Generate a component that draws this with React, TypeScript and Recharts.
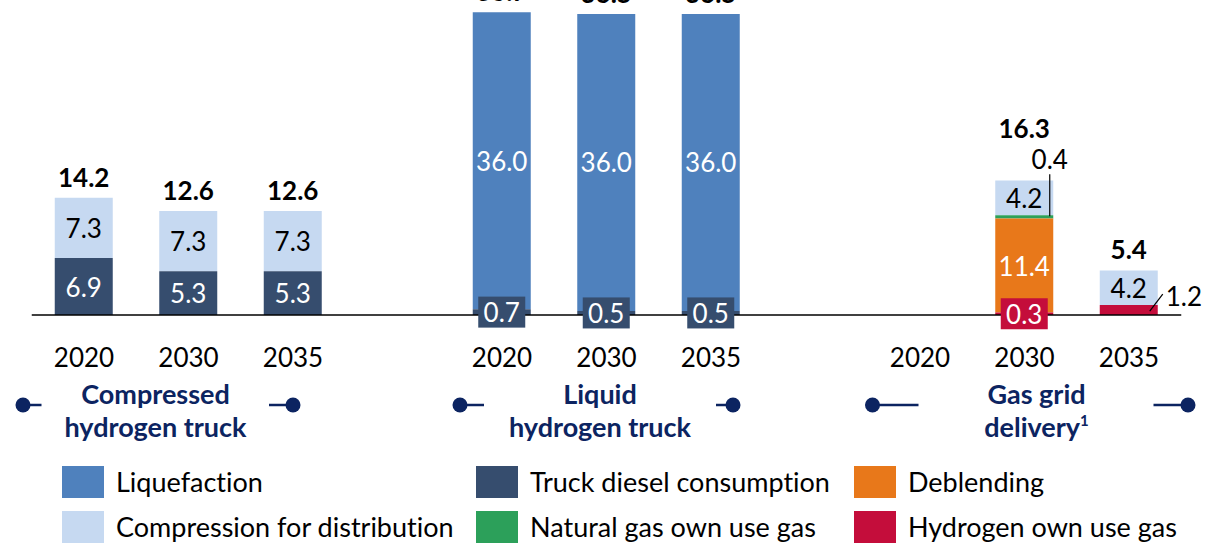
import React from 'react';
import { BarChart, Bar, XAxis, YAxis, LabelList } from 'recharts';

// ---------- DATA ----------
const categories = ['c2020', 'c2030', 'c2035', 'gap1', 'l2020', 'l2030', 'l2035', 'gap2', 'g2020', 'g2030', 'g2035'];
const yearLabels = ['2020', '2030', '2035', '', '2020', '2030', '2035', '', '2020', '2030', '2035'];
const dieselValues = [6.9, 5.3, 5.3, null, 0.7, 0.5, 0.5, null, null, null, null];
const hydrogenOwnValues = [null, null, null, null, null, null, null, null, null, 0.3, 1.2];
const liquefactionValues = [null, null, null, null, 36.0, 36.0, 36.0, null, null, null, null];
const deblendingValues = [null, null, null, null, null, null, null, null, null, 11.4, null];
const naturalGasOwnValues = [null, null, null, null, null, null, null, null, null, 0.4, null];
const compressionValues = [7.3, 7.3, 7.3, null, null, null, null, null, null, 4.2, 4.2];
const totalValues = [14.2, 12.6, 12.6, null, 36.7, 36.5, 36.5, null, null, 16.3, 5.4];
const groupTitles = [['Compressed', 'hydrogen truck'], ['Liquid', 'hydrogen truck'], ['Gas grid', 'delivery']];
const groupFootnotes = ['', '', '1'];

const valuesByKey: Record<string, (number | null)[]> = {
  diesel: dieselValues,
  hydrogen: hydrogenOwnValues,
  liquefaction: liquefactionValues,
  deblending: deblendingValues,
  naturalGas: naturalGasOwnValues,
  compression: compressionValues,
};

const data = categories.map((key, i) => ({
  key,
  year: yearLabels[i],
  diesel: dieselValues[i],
  hydrogen: hydrogenOwnValues[i],
  liquefaction: liquefactionValues[i],
  deblending: deblendingValues[i],
  naturalGas: naturalGasOwnValues[i],
  compression: compressionValues[i],
}));

// ---------- STYLE ----------
const FONT = 'Lato, "Noto Sans", sans-serif';
const NAVY = '#0C2461';

// stacking order bottom -> top
const series = [
  { key: 'diesel', name: 'Truck diesel consumption', color: '#364D6E', text: '#FFFFFF' },
  { key: 'hydrogen', name: 'Hydrogen own use gas', color: '#C40D3B', text: '#FFFFFF' },
  { key: 'liquefaction', name: 'Liquefaction', color: '#4F81BD', text: '#FFFFFF' },
  { key: 'deblending', name: 'Deblending', color: '#E8781A', text: '#FFFFFF' },
  { key: 'naturalGas', name: 'Natural gas own use gas', color: '#2CA05A', text: '#000000' },
  { key: 'compression', name: 'Compression for distribution', color: '#C6D9F1', text: '#000000' },
];
const legendOrder = ['liquefaction', 'diesel', 'deblending', 'compression', 'naturalGas', 'hydrogen'];
const legendCols = [62, 476, 854];
const legendRows = [466, 511];

const callouts: Record<string, string> = {
  'diesel:l2020': 'box',
  'diesel:l2030': 'box',
  'diesel:l2035': 'box',
  'hydrogen:g2030': 'box',
  'naturalGas:g2030': 'leaderUp',
  'hydrogen:g2035': 'leaderRight',
};
const totalLift: Record<string, number> = { g2030: 43 };
const topSeries = ['liquefaction', 'compression'];

const groupDecor = [
  { mid: 1, textDx: -33, leftDot: -165.5, leftEnd: -147, rightStart: 80.5, rightDot: 104.5 },
  { mid: 5, textDx: -6.5, leftDot: -146.5, leftEnd: -122.5, rightStart: 109.5, rightDot: 126.5 },
  { mid: 9, textDx: 12, leftDot: -152, leftEnd: -106, rightStart: 129, rightDot: 163.5 },
];

const SHIFT = 40;

const makeLabel = (seriesKey: string, color: string, textColor: string) => (props: any) => {
  const vb = props.viewBox && props.viewBox.width != null ? props.viewBox : props;
  const x = Number(vb.x), y = Number(vb.y), width = Number(vb.width), height = Number(vb.height);
  const cat = props.value;
  const idx = categories.indexOf(cat);
  if (idx < 0 || isNaN(x)) return null;
  const value = valuesByKey[seriesKey][idx];
  if (value == null || value === 0) return null;
  const cx = x + width / 2;
  const cy = y + height / 2;
  const text = Number(value).toFixed(1);
  const style = callouts[`${seriesKey}:${cat}`];
  const els: React.ReactNode[] = [];
  if (style === 'box') {
    els.push(<rect key="b" x={cx - 23.5} y={cy - 15.5} width={47} height={31} fill={color} />);
    els.push(
      <text key="t" x={cx} y={cy + 10} textAnchor="middle" fill="#FFFFFF" fontFamily={FONT} fontSize={26}>
        {text}
      </text>
    );
  } else if (style === 'leaderUp') {
    const lx = x + width - 3.5;
    els.push(<line key="l" x1={lx} y1={y + 1} x2={lx} y2={y - 41} stroke="#000" strokeWidth={1.2} />);
    els.push(
      <text key="t" x={lx} y={y - 46} textAnchor="middle" fill="#000" fontFamily={FONT} fontSize={26}>
        {text}
      </text>
    );
  } else if (style === 'leaderRight') {
    const r = x + width;
    els.push(<line key="l" x1={r - 8} y1={cy + 1} x2={r + 5} y2={cy - 16} stroke="#000" strokeWidth={1.2} />);
    els.push(
      <text key="t" x={r + 8} y={cy - 4} textAnchor="start" fill="#000" fontFamily={FONT} fontSize={26}>
        {text}
      </text>
    );
  } else {
    els.push(
      <text key="t" x={cx} y={cy + 10} textAnchor="middle" fill={textColor} fontFamily={FONT} fontSize={26}>
        {text}
      </text>
    );
  }
  if (topSeries.includes(seriesKey) && totalValues[idx] != null) {
    const lift = totalLift[cat] ?? 11;
    els.push(
      <text key="tot" x={cx} y={y - lift} textAnchor="middle" fill="#000" fontFamily={FONT} fontSize={26} fontWeight={700}>
        {Number(totalValues[idx]).toFixed(1)}
      </text>
    );
  }
  return <g>{els}</g>;
};

const AxisTick = (props: any) => {
  const { x, y, payload } = props;
  const index = categories.indexOf(payload?.value);
  const year = yearLabels[index];
  const decorIdx = groupDecor.findIndex((g) => g.mid === index);
  const d = decorIdx >= 0 ? groupDecor[decorIdx] : null;
  const dotY = y + 90;
  return (
    <g>
      {year ? (
        <text x={x} y={y + 52} textAnchor="middle" fill="#000" fontFamily={FONT} fontSize={26}>
          {year}
        </text>
      ) : null}
      {d ? (
        <g>
          <text x={x + d.textDx} y={y + 89} textAnchor="middle" fill={NAVY} fontFamily={FONT} fontSize={27} fontWeight={700}>
            {groupTitles[decorIdx][0]}
          </text>
          <text x={x + d.textDx} y={y + 122} textAnchor="middle" fill={NAVY} fontFamily={FONT} fontSize={27} fontWeight={700}>
            {groupTitles[decorIdx][1]}
            {groupFootnotes[decorIdx] ? (
              <tspan fontSize={15} dy={-11}>
                {groupFootnotes[decorIdx]}
              </tspan>
            ) : null}
          </text>
          <line x1={x + d.leftDot} y1={dotY} x2={x + d.leftEnd} y2={dotY} stroke={NAVY} strokeWidth={2.5} />
          <circle cx={x + d.leftDot} cy={dotY} r={7.5} fill={NAVY} />
          <line x1={x + d.rightStart} y1={dotY} x2={x + d.rightDot} y2={dotY} stroke={NAVY} strokeWidth={2.5} />
          <circle cx={x + d.rightDot} cy={dotY} r={7.5} fill={NAVY} />
        </g>
      ) : null}
    </g>
  );
};

export default function App() {
  const seriesMap: Record<string, any> = {};
  series.forEach((s) => (seriesMap[s.key] = s));
  // declared top -> bottom with reverseStackOrder so lower segments (and their labels) paint last
  const declared = [...series].reverse();
  return (
    <div
      style={{
        position: 'absolute',
        left: 0,
        top: 0,
        width: 1220,
        height: 546,
        overflow: 'hidden',
        fontFamily: FONT,
        background: '#fff',
        fontVariantLigatures: 'none',
      }}
    >
      <div style={{ position: 'absolute', left: 0, top: -SHIFT }}>
        <BarChart
          width={1220}
          height={586}
          data={data}
          margin={{ top: 25, right: 38.75, bottom: 51, left: 31.75 }}
          barSize={58}
          reverseStackOrder
        >
          <XAxis
            dataKey="key"
            axisLine={{ stroke: '#000', strokeWidth: 1.5 }}
            tickLine={false}
            tickSize={0}
            tickMargin={0}
            interval={0}
            height={180}
            tick={<AxisTick />}
          />
          <YAxis hide domain={[0, 40]} />
          {declared.map((s) => (
            <Bar key={s.key} dataKey={s.key} stackId="a" fill={s.color} isAnimationActive={false}>
              <LabelList valueAccessor={(entry: any) => entry?.payload?.key} content={makeLabel(s.key, s.color, s.text)} />
            </Bar>
          ))}
        </BarChart>
      </div>
      {legendOrder.map((k, i) => {
        const s = seriesMap[k];
        const left = legendCols[i % 3];
        const top = legendRows[Math.floor(i / 3)];
        return (
          <div key={k} style={{ position: 'absolute', left, top, height: 32, display: 'flex', alignItems: 'center', whiteSpace: 'nowrap' }}>
            <div style={{ width: 42, height: 32, background: s.color }} />
            <div style={{ marginLeft: 12, fontSize: 27, color: '#000', fontFamily: FONT, lineHeight: '32px' }}>{s.name}</div>
          </div>
        );
      })}
    </div>
  );
}
